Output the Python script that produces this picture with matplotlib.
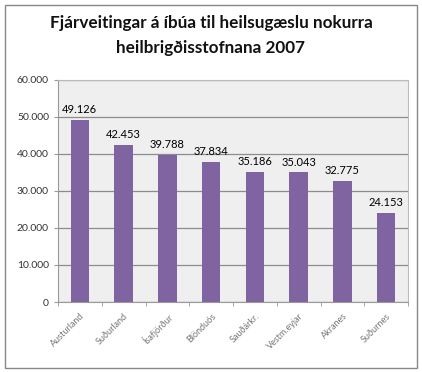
import numpy as np
import matplotlib.pyplot as plt
from matplotlib.patches import Rectangle

# Dados
stadir = ['Austurland', 'Suðurland', 'Ísafjörður', 'Blönduós', 'Sauðárkr.',
          'Vestm.eyjar', 'Akranes', 'Suðurnes']
fjarveiting = [49126, 42453, 39788, 37834, 35186, 35043, 32775, 24153]
y_ticks = [0, 10000, 20000, 30000, 40000, 50000, 60000]

plt.rcParams['font.family'] = ['Lato', 'DejaVu Sans']

fig = plt.figure(figsize=(4.22, 3.72), dpi=100)
fig.patch.set_facecolor('white')
fig.patches.append(Rectangle((5 / 422, 1 - 368 / 372), 412 / 422, 363 / 372,
                             transform=fig.transFigure, fill=False,
                             edgecolor='#888888', linewidth=1))

ax = fig.add_axes([58 / 422, 1 - 302 / 372, 350 / 422, 222 / 372])
ax.set_facecolor('#efefef')

x = np.arange(len(stadir))
ax.bar(x, fjarveiting, width=0.42, color='#8064a2', zorder=3)

for xi, v in zip(x, fjarveiting):
    ax.text(xi, v + 1300, f'{v:,}'.replace(',', '.'), ha='center', va='bottom',
            fontsize=8, color='#000000')

ax.set_xlim(-0.5, len(stadir) - 0.5)
ax.set_ylim(0, 60000)
ax.set_yticks(y_ticks)
ax.set_yticklabels([f'{t:,}'.replace(',', '.') for t in y_ticks],
                   fontsize=7.5, color='#333333')
ax.yaxis.grid(True, color='#8c8c8c', linewidth=0.9, zorder=1)

ax.set_xticks(x)
ax.set_xticklabels(stadir, rotation=45, ha='right', rotation_mode='anchor',
                   fontsize=6.5, color='#777777')
ax.tick_params(axis='x', length=0, pad=7)
ax.set_xticks(np.arange(len(stadir) + 1) - 0.5, minor=True)
ax.tick_params(axis='x', which='minor', length=3, color='#999999')
ax.tick_params(axis='y', length=3, color='#999999')

for side in ['top', 'right']:
    ax.spines[side].set_color('#bbbbbb')
for side in ['left', 'bottom']:
    ax.spines[side].set_color('#999999')

fig.text(0.5, 1 - 23 / 372, 'Fjárveitingar á íbúa til heilsugæslu nokurra',
         ha='center', va='center', fontsize=12.3, fontweight='bold', color='#111111')
fig.text(0.5, 1 - 48 / 372, 'heilbrigðisstofnana 2007',
         ha='center', va='center', fontsize=12.3, fontweight='bold', color='#111111')

fig.savefig('out.png', dpi=100)
